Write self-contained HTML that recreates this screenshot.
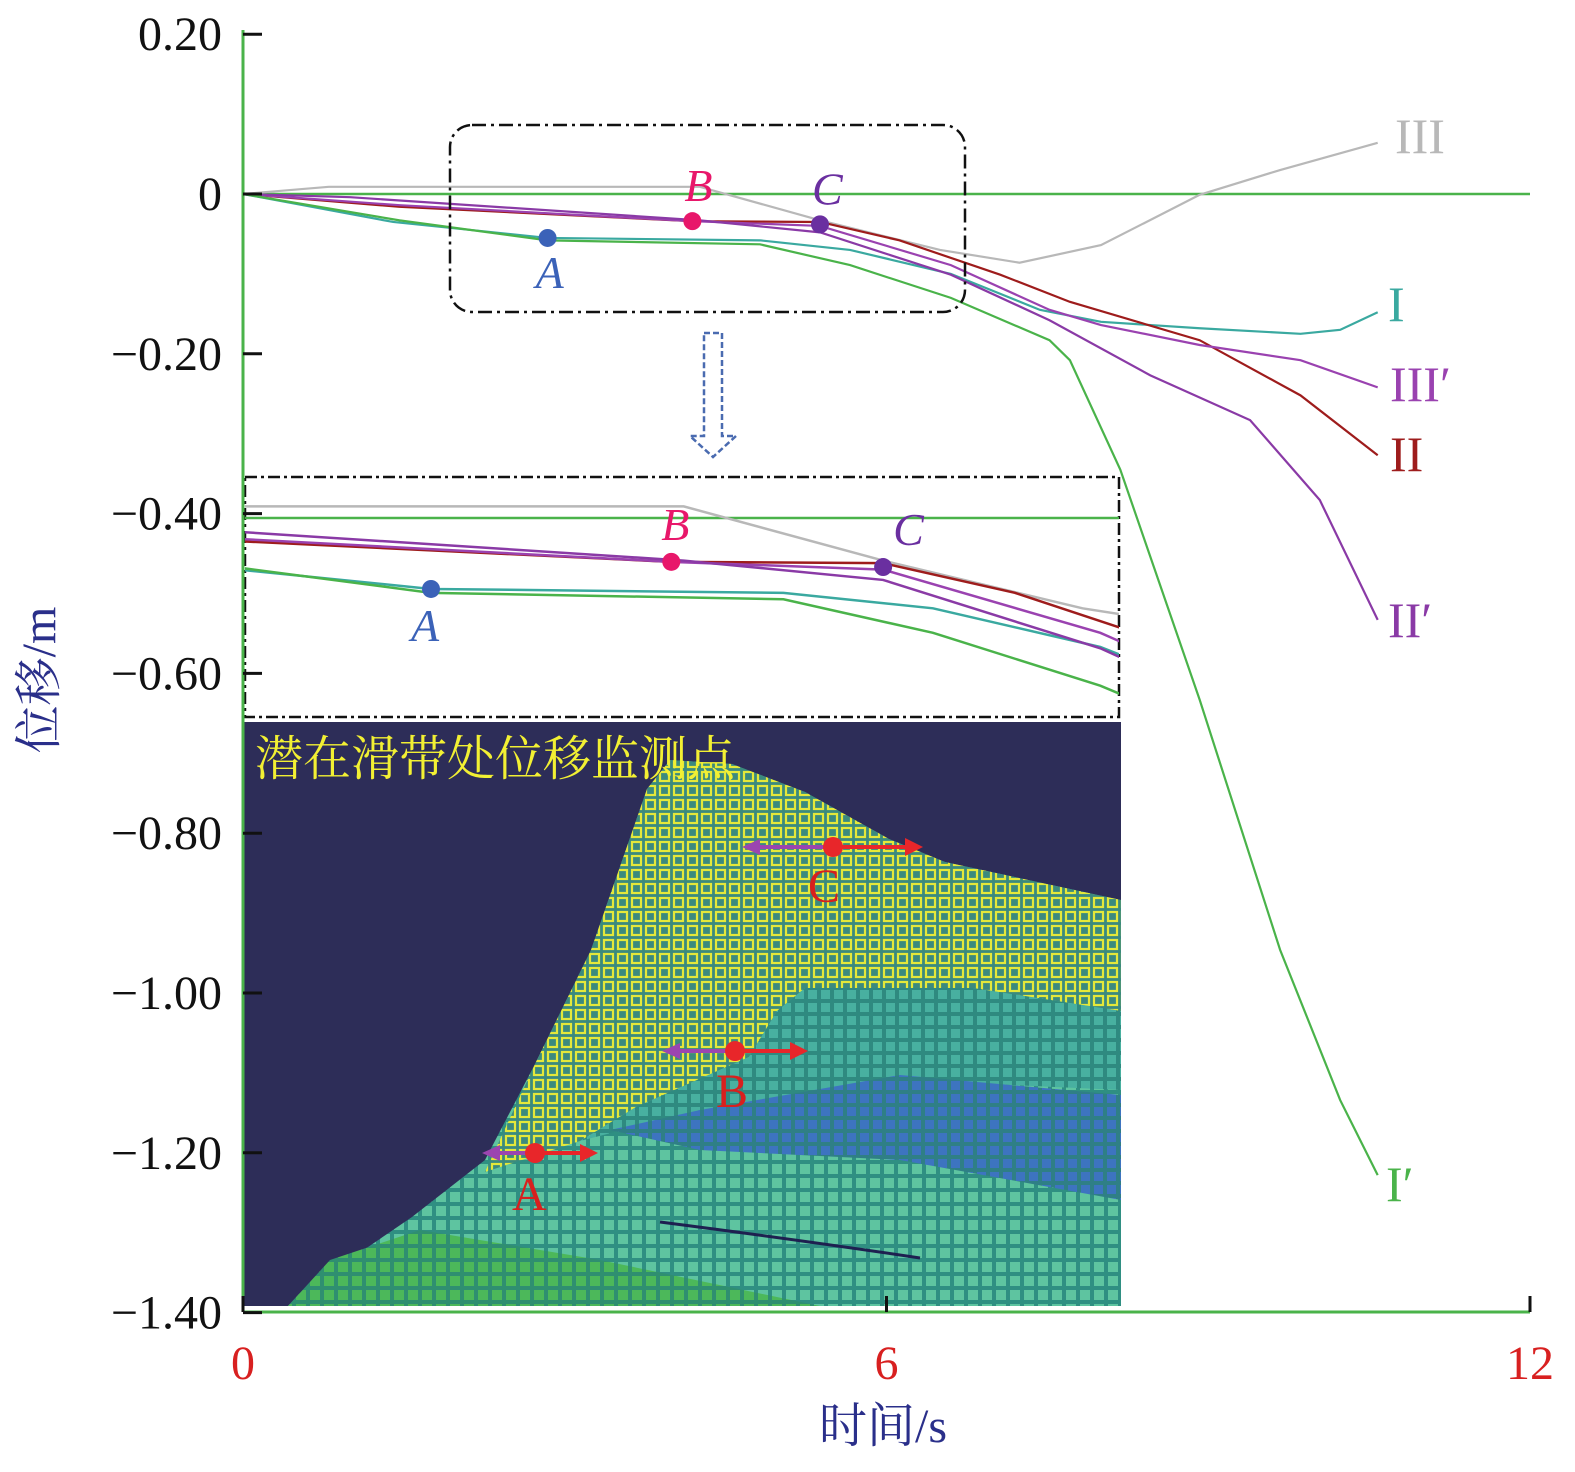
<!DOCTYPE html>
<html><head><meta charset="utf-8"><style>
html,body{margin:0;padding:0;background:#fff;width:1575px;height:1472px;overflow:hidden;}
svg{display:block;}
text{font-family:"Liberation Serif","Noto Serif CJK SC",serif;}
</style></head><body>
<svg id="chart" width="1575" height="1472" viewBox="0 0 1575 1472" xmlns="http://www.w3.org/2000/svg">
<defs>
<clipPath id="insetClip"><rect x="245" y="477" width="874" height="240"/></clipPath>
<pattern id="yel" width="14" height="14" patternUnits="userSpaceOnUse"><rect width="14" height="14" fill="#3b8a7e"/><rect x="2" y="2" width="9" height="9" fill="none" stroke="#e4e83a" stroke-width="2.2"/></pattern>
<pattern id="teal" width="13" height="13" patternUnits="userSpaceOnUse"><rect width="13" height="13" fill="#2f8a80"/><rect x="2" y="2" width="9" height="9" fill="#48b0a0"/></pattern>
<pattern id="blu" width="13" height="13" patternUnits="userSpaceOnUse"><rect width="13" height="13" fill="#2f7f86"/><rect x="2" y="2" width="9" height="9" fill="#3d74c0"/></pattern>
<pattern id="lgr" width="14" height="14" patternUnits="userSpaceOnUse"><rect width="14" height="14" fill="#2f8f82"/><rect x="2" y="2" width="10" height="10" fill="#5ec4a0"/></pattern>
<pattern id="grn" width="14" height="14" patternUnits="userSpaceOnUse"><rect width="14" height="14" fill="#2f8f70"/><rect x="2" y="2" width="10" height="10" fill="#4cb85a"/></pattern>
</defs>

<g>
<rect x="243" y="722" width="878" height="584" fill="#2d2d58"/>
<polygon fill="url(#lgr)" points="288,1306 299,1294 412,1217 485,1160 535,1064 591,950 631,835 647,789 670,760 732,764 805,792 889,839 945,862 1121,900 1121,1306"/>
<polygon fill="url(#yel)" points="485,1172 535,1064 591,950 631,835 647,789 670,760 732,764 805,792 889,839 945,862 1121,900 1121,1011 973,988 805,988 777,1011 749,1057 636,1107 580,1141"/>
<polygon fill="url(#teal)" points="580,1141 636,1107 749,1057 777,1011 805,988 973,988 1121,1011 1121,1090 900,1080 700,1110"/>
<polygon fill="url(#blu)" points="610,1130 700,1110 900,1075 1121,1095 1121,1200 900,1160 700,1150"/>
<polygon fill="url(#grn)" points="288,1306 330,1260 420,1230 600,1260 820,1306"/>
<path d="M660,1222 Q800,1240 920,1258" stroke="#1e2050" stroke-width="3" fill="none"/>
<text x="255" y="775" font-size="48" fill="#f2f033" font-family="Noto Serif CJK SC,serif">潜在滑带处位移监测点</text>
<g>
<line x1="750" y1="847" x2="830" y2="847" stroke="#9b45b0" stroke-width="4"/><polygon points="742,847 760,839 760,855" fill="#9b45b0"/>
<line x1="833" y1="847" x2="910" y2="847" stroke="#e8262a" stroke-width="4"/><polygon points="923,847 905,838 905,856" fill="#e8262a"/>
<circle cx="833" cy="847" r="10" fill="#e8262a"/><text x="808" y="902" font-size="48" fill="#d8201e">C</text></g>
<g>
<line x1="670" y1="1051" x2="735" y2="1051" stroke="#9b45b0" stroke-width="4"/><polygon points="662,1051 680,1043 680,1059" fill="#9b45b0"/>
<line x1="735" y1="1051" x2="795" y2="1051" stroke="#e8262a" stroke-width="4"/><polygon points="808,1051 790,1042 790,1060" fill="#e8262a"/>
<circle cx="735" cy="1051" r="10" fill="#e8262a"/><text x="716" y="1107" font-size="48" fill="#d8201e">B</text></g>
<g>
<line x1="490" y1="1153" x2="535" y2="1153" stroke="#9b45b0" stroke-width="4"/><polygon points="482,1153 500,1145 500,1161" fill="#9b45b0"/>
<line x1="535" y1="1153" x2="585" y2="1153" stroke="#e8262a" stroke-width="4"/><polygon points="598,1153 580,1144 580,1162" fill="#e8262a"/>
<circle cx="535" cy="1153" r="10" fill="#e8262a"/><text x="512" y="1210" font-size="48" fill="#d8201e">A</text></g>
</g>

<rect x="245" y="477" width="874" height="240" fill="#fff" stroke="#111" stroke-width="2.5" stroke-dasharray="12,4,3,4"/>

<g id="main"></g>
<g id="inset" clip-path="url(#insetClip)"></g>

<rect x="450" y="125" width="515" height="187" rx="22" fill="none" stroke="#111" stroke-width="2.5" stroke-dasharray="14,5,3,5"/>
<g fill="none" stroke="#4a6bb0" stroke-width="2.5" stroke-dasharray="6,3">
<path d="M704,333 L722,333 L722,436 L736,436 L713,457 L690,436 L704,436 Z"/></g>

<line x1="243" y1="30" x2="243" y2="1312" stroke="#4ab34a" stroke-width="3"/>
<line x1="243" y1="1312" x2="1530" y2="1312" stroke="#4ab34a" stroke-width="3"/>
<g id="yticks"></g>
<g id="xticks"></g>
<text x="55" y="680" font-size="48" fill="#2a2f8a" transform="rotate(-90 55 680)" text-anchor="middle" font-family="Liberation Serif,Noto Serif CJK SC,serif">位移/m</text>
<text x="883" y="1442" font-size="48" fill="#2a2f8a" text-anchor="middle" font-family="Liberation Serif,Noto Serif CJK SC,serif">时间/s</text>

<g font-size="50">
<text x="1395" y="153" fill="#b8b8b8">III</text>
<text x="1388" y="321" fill="#3aa9a0">I</text>
<text x="1390" y="401" fill="#9a42b0">III′</text>
<text x="1390" y="471" fill="#9e1c1c">II</text>
<text x="1388" y="637" fill="#8a3aa6">II′</text>
<text x="1386" y="1201" fill="#4ab34a">I′</text>
</g>
</svg>
<script>
const yTicks=[0.20,0,-0.20,-0.40,-0.60,-0.80,-1.00,-1.20,-1.40];
const yTickLabels=["0.20","0","\u22120.20","\u22120.40","\u22120.60","\u22120.80","\u22121.00","\u22121.20","\u22121.40"];
const xTicks=[0,6,12];
const xTickLabels=["0","6","12"];
const tIII=[0,0.8,4.26,5.38,6.5,7.24,8.0,8.92,9.67,10.58];
const vIII=[0,0.009,0.009,-0.033,-0.07,-0.086,-0.064,-0.001,0.03,0.064];
const tI=[0,1.4,2.84,4.82,5.66,6.6,7.43,8.0,8.92,9.86,10.23,10.58];
const vI=[0,-0.035,-0.055,-0.058,-0.07,-0.1,-0.145,-0.16,-0.168,-0.175,-0.17,-0.148];
const tIp=[0,1.46,2.84,4.82,5.66,6.6,7.52,7.71,8.18,8.92,9.67,10.23,10.58];
const vIp=[0,-0.033,-0.058,-0.063,-0.089,-0.13,-0.183,-0.208,-0.345,-0.633,-0.946,-1.134,-1.228];
const tII=[0,1.46,4.19,5.38,6.12,7.06,7.71,8.92,9.86,10.58];
const vII=[0,-0.016,-0.034,-0.035,-0.058,-0.101,-0.135,-0.183,-0.252,-0.327];
const tIIIp=[0,1.46,4.19,5.38,6.6,7.52,8.0,8.92,9.86,10.58];
const vIIIp=[0,-0.014,-0.034,-0.04,-0.089,-0.145,-0.164,-0.189,-0.208,-0.242];
const tIIp=[0,1.0,4.26,5.38,6.6,7.52,8.46,9.39,10.04,10.58];
const vIIp=[0,-0.004,-0.033,-0.048,-0.101,-0.158,-0.227,-0.283,-0.383,-0.533];
const markT=[2.84,4.19,5.38];
const markV=[-0.055,-0.034,-0.038];
const markNames=["A","B","C"];
const markColors=["#3b62b8","#e8176a","#6a2fa0"];

const NS="http://www.w3.org/2000/svg";
const X=t=>243+t*107.25, Y=v=>194-v*799;
const IX=t=>431+(t-2.84)*178, IY=v=>518-v*1290;
function mk(tag,attrs,parent){const e=document.createElementNS(NS,tag);for(const k in attrs)e.setAttribute(k,attrs[k]);parent.appendChild(e);return e;}
const main=document.getElementById('main'), inset=document.getElementById('inset');
const series=[[tIII,vIII,"#b8b8b8","series-III"],[tI,vI,"#3aa9a0","series-I"],[tII,vII,"#9e1c1c","series-II"],[tIIIp,vIIIp,"#9a42b0","series-IIIp"],[tIIp,vIIp,"#8a3aa6","series-IIp"],[tIp,vIp,"#4ab34a","series-Ip"]];
let z=mk('line',{x1:243,y1:Y(0),x2:1530,y2:Y(0),stroke:'#4ab34a','stroke-width':2.5},main);


let z2=mk('line',{x1:245,y1:IY(0),x2:1120,y2:IY(0),stroke:'#4ab34a','stroke-width':2.5},inset);


series.forEach(s=>{
  const [ts,vs,c,n]=s;
  let p=mk('polyline',{points:ts.map((t,i)=>X(t)+','+Y(vs[i])).join(' '),fill:'none',stroke:c,'stroke-width':2.2},main);
  
  
  let q=mk('polyline',{points:ts.map((t,i)=>IX(t)+','+IY(vs[i])).join(' '),fill:'none',stroke:c,'stroke-width':2.5},inset);
  
  
});
markT.forEach((t,i)=>{
  let c=mk('circle',{cx:X(t),cy:Y(markV[i]),r:9,fill:markColors[i]},main);
  
  
  let l=mk('text',{x:X(t)+(i==0?-12:-8),y:Y(markV[i])+(i==0?50:-20),'font-size':46,'font-style':'italic',fill:markColors[i]},main);
  l.textContent=markNames[i];
  
  
  let c2=mk('circle',{cx:IX(t),cy:IY(markV[i]),r:9,fill:markColors[i]},inset);
  
  
  let l2=mk('text',{x:IX(t)+(i==0?-20:(i==1?-10:10)),y:IY(markV[i])+(i==0?52:-22),'font-size':46,'font-style':'italic',fill:markColors[i]},inset);
  l2.textContent=markNames[i];
  
  
});
const yt=document.getElementById('yticks');
yTicks.forEach((v,i)=>{
  let l=mk('line',{x1:243,y1:Y(v),x2:262,y2:Y(v),stroke:'#111','stroke-width':3},yt);
  
  
  let t=mk('text',{x:222,y:Y(v)+16,'font-size':48,'text-anchor':'end',fill:'#111'},yt);
  t.textContent=yTickLabels[i];
  
  
});
const xt=document.getElementById('xticks');
xTicks.forEach((v,i)=>{
  let l=mk('line',{x1:X(v),y1:1312,x2:X(v),y2:1296,stroke:'#111','stroke-width':3},xt);
  
  
  let t=mk('text',{x:X(v),y:1379,'font-size':48,'text-anchor':'middle',fill:'#d82020'},xt);
  t.textContent=xTickLabels[i];
  
  
});
</script>
</body></html>
